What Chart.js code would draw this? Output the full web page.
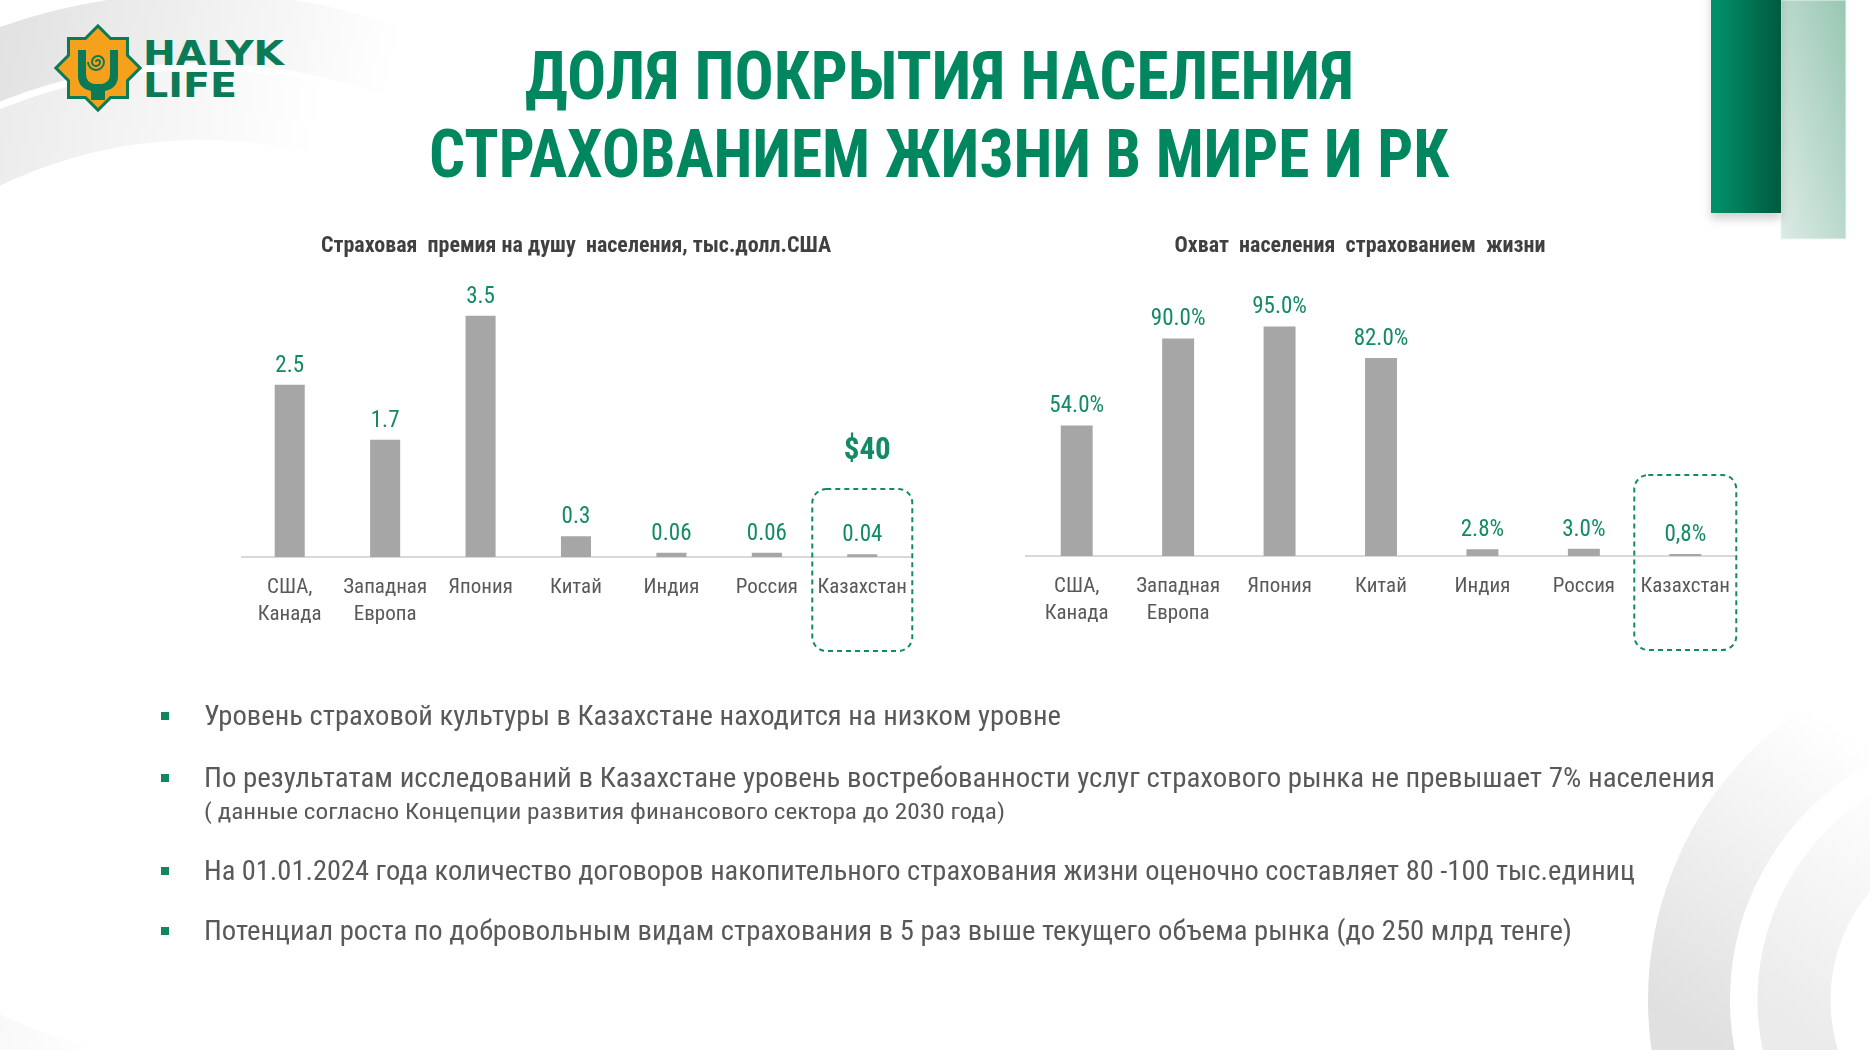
<!DOCTYPE html>
<html lang="ru">
<head>
<meta charset="utf-8">
<title>Доля покрытия населения страхованием жизни</title>
<script src="https://cdn.jsdelivr.net/npm/chart.js@4.4.1/dist/chart.umd.min.js"></script>
<style>
html, body { margin: 0; padding: 0; background: #fff; }
body { width: 1870px; height: 1050px; position: relative; overflow: hidden; }
svg, canvas, .line, .bullet { position: absolute; }
.line { white-space: nowrap; transform-origin: 0 50%; }
.title { color: #00875f; font-weight: bold; font-size: 66px; line-height: 78px; }
.text { color: #595959; font-size: 27px; line-height: 36px; }
.note { color: #595959; font-size: 22px; line-height: 30px; }
.bullet { width: 8px; height: 8px; background: #11875f; }
</style>
</head>
<body>

<svg id="bg" width="1870" height="1050" style="left:0;top:0">
  <defs>
    <linearGradient id="tl1" gradientUnits="userSpaceOnUse" x1="0" y1="40" x2="380" y2="130">
      <stop offset="0" stop-color="#e2e2e2"/><stop offset="1" stop-color="#ffffff"/>
    </linearGradient>
    <linearGradient id="tl2" gradientUnits="userSpaceOnUse" x1="0" y1="140" x2="300" y2="210">
      <stop offset="0" stop-color="#ececec"/><stop offset="1" stop-color="#ffffff"/>
    </linearGradient>
    <linearGradient id="br1" gradientUnits="userSpaceOnUse" x1="1650" y1="1000" x2="1830" y2="720">
      <stop offset="0" stop-color="#e0e0e0"/><stop offset="1" stop-color="#ffffff"/>
    </linearGradient>
    <linearGradient id="br2" gradientUnits="userSpaceOnUse" x1="1760" y1="1000" x2="1900" y2="790">
      <stop offset="0" stop-color="#ebebeb"/><stop offset="1" stop-color="#ffffff"/>
    </linearGradient>
    <linearGradient id="dk" x1="0" y1="0" x2="1" y2="0">
      <stop offset="0" stop-color="#00936b"/><stop offset="1" stop-color="#045a3f"/>
    </linearGradient>
    <linearGradient id="lt" x1="0" y1="1" x2="1" y2="0">
      <stop offset="0" stop-color="#dcebe5"/><stop offset="1" stop-color="#98c7b3"/>
    </linearGradient>
    <filter id="sh" x="-20%" y="-20%" width="140%" height="140%">
      <feDropShadow dx="0" dy="6" stdDeviation="5" flood-color="#000" flood-opacity="0.18"/>
    </filter>
  </defs>
  <circle cx="200" cy="600" r="572" fill="none" stroke="url(#tl1)" stroke-width="70"/>
  <circle cx="200" cy="600" r="495" fill="none" stroke="url(#tl2)" stroke-width="70"/>
  <circle cx="2000" cy="1000" r="311" fill="none" stroke="url(#br1)" stroke-width="82"/>
  <circle cx="2000" cy="1000" r="206" fill="none" stroke="url(#br2)" stroke-width="73"/>
  <rect x="1781" y="0" width="65" height="239" fill="url(#lt)" stroke="#eef5f2" stroke-width="1"/>
  <rect x="1711" y="-10" width="70" height="223" fill="url(#dk)" filter="url(#sh)"/>
</svg>

<svg id="logo" width="300" height="130" style="left:0;top:0">
  <g fill="#0b7a57" stroke="#0b7a57" stroke-width="6">
    <rect x="70" y="40" width="56" height="56"/>
    <polygon points="98,28 138,68 98,108 58,68"/>
  </g>
  <g fill="#f5a11c">
    <rect x="70" y="40" width="56" height="56"/>
    <polygon points="98,28 138,68 98,108 58,68"/>
  </g>
  <path fill="#0b7a57" d="M78,50 h8 v24 q0,8 8,10 h8 q8,-2 8,-10 v-24 h8 v26 q0,12 -13,15 v9 h-14 v-9 q-13,-3 -13,-15 z"/>
  <path fill="none" stroke="#0b7a57" stroke-width="2" d="M96,62 a2,2 0 1,1 4,0 a4,4 0 1,1 -8,0 a6,6 0 1,1 12,0 a8,8 0 1,1 -16,0"/>
  <text x="143" y="65" font-family="DejaVu Sans" font-weight="bold" font-size="34" fill="#0b7a57" textLength="141" lengthAdjust="spacingAndGlyphs">HALYK</text>
  <text x="143" y="97" font-family="DejaVu Sans" font-weight="bold" font-size="34" fill="#0b7a57" textLength="94" lengthAdjust="spacingAndGlyphs">LIFE</text>
</svg>

<div class="line title" data-w="829" style="left:525px; top:38px">ДОЛЯ ПОКРЫТИЯ НАСЕЛЕНИЯ</div>
<div class="line title" data-w="1020" style="left:429px; top:116px">СТРАХОВАНИЕМ ЖИЗНИ В МИРЕ И РК</div>

<canvas id="premiumChart" width="712" height="450" style="left:220px; top:215px"></canvas>
<canvas id="coverageChart" width="792" height="450" style="left:964px; top:215px"></canvas>

<div class="bullet" style="left:161px; top:712px"></div>
<div class="line text" data-w="857" style="left:204px; top:698px">Уровень страховой культуры в Казахстане находится на низком уровне</div>
<div class="bullet" style="left:161px; top:774px"></div>
<div class="line text" data-w="1511" style="left:204px; top:760px">По результатам исследований в Казахстане уровень востребованности услуг страхового рынка не превышает 7% населения</div>
<div class="line note" data-w="801" style="left:204px; top:797px">( данные согласно Концепции развития финансового сектора до 2030 года)</div>
<div class="bullet" style="left:161px; top:867px"></div>
<div class="line text" data-w="1431" style="left:204px; top:853px">На 01.01.2024 года количество договоров накопительного страхования жизни оценочно составляет 80 -100 тыс.единиц</div>
<div class="bullet" style="left:161px; top:927px"></div>
<div class="line text" data-w="1368" style="left:204px; top:913px">Потенциал роста по добровольным видам страхования в 5 раз выше текущего объема рынка (до 250 млрд тенге)</div>

<script>
// chart data
const categories = [['США,', 'Канада'], ['Западная', 'Европа'], 'Япония', 'Китай', 'Индия', 'Россия', 'Казахстан'];
const premiumPerCapita = [2.5, 1.7, 3.5, 0.3, 0.06, 0.06, 0.04];
const premiumLabels = ['2.5', '1.7', '3.5', '0.3', '0.06', '0.06', '0.04'];
const coverageShare = [54.0, 90.0, 95.0, 82.0, 2.8, 3.0, 0.8];
const coverageLabels = ['54.0%', '90.0%', '95.0%', '82.0%', '2.8%', '3.0%', '0,8%'];
const highlightIndex = 6;
const kazakhstanPremium = '$40';
const kazakhstanPremiumLevel = 1.53;

const GREEN = '#128a66';
const BAR_GRAY = '#a6a6a6';

// pick a narrow font if one is installed
function hasFont(name) {
    const ctx = document.createElement('canvas').getContext('2d');
    const sample = 'Страховая премия 0123456789 abcdefghij';
    return ['monospace', 'serif'].some(base => {
        ctx.font = '40px ' + base;
        const w1 = ctx.measureText(sample).width;
        ctx.font = `40px '${name}', ${base}`;
        return ctx.measureText(sample).width !== w1;
    });
}
const FAMILY = ['Liberation Sans Narrow', 'Arial Narrow', 'Roboto Condensed', 'Liberation Sans']
    .find(hasFont) || 'sans-serif';
const FONT = `'${FAMILY}', 'Liberation Sans', Arial, sans-serif`;
document.body.style.fontFamily = FONT;

// stretch text lines to the widths they have on the slide
document.querySelectorAll('.line').forEach(el => {
    const w = el.getBoundingClientRect().width;
    el.style.transform = `scaleX(${el.dataset.w / w})`;
});

Chart.defaults.font.family = FONT;
Chart.defaults.color = '#595959';

// value labels above the bars
const valueLabels = {
    id: 'valueLabels',
    afterDatasetsDraw(chart, args, opts) {
        const ctx = chart.ctx;
        ctx.save();
        ctx.font = `${opts.size}px ${FONT}`;
        ctx.fillStyle = GREEN;
        ctx.textAlign = 'center';
        ctx.textBaseline = 'middle';
        chart.getDatasetMeta(0).data.forEach((bar, i) => {
            ctx.fillText(opts.labels[i], bar.x, bar.y - opts.offset);
        });
        ctx.restore();
    }
};

// dashed frame around Kazakhstan
const highlightBox = {
    id: 'highlightBox',
    afterDraw(chart, args, opts) {
        const ctx = chart.ctx;
        const x = chart.scales.x.getPixelForValue(opts.index);
        const base = chart.scales.y.getPixelForValue(0);
        ctx.save();
        ctx.strokeStyle = GREEN;
        ctx.lineWidth = 2;
        ctx.setLineDash([5, 4]);
        ctx.beginPath();
        ctx.roundRect(x - opts.half, base - opts.above, opts.half * 2, opts.above + opts.below, 14);
        ctx.stroke();
        if (opts.note) {
            ctx.setLineDash([]);
            ctx.font = `bold 31px ${FONT}`;
            ctx.fillStyle = GREEN;
            ctx.textAlign = 'center';
            ctx.textBaseline = 'middle';
            ctx.fillText(opts.note, x + 5, chart.scales.y.getPixelForValue(opts.noteLevel));
        }
        ctx.restore();
    }
};

function xAxis(height) {
    return {
        grid: { display: false, drawTicks: false },
        border: { display: true, color: '#d9d9d9', width: 2 },
        ticks: { color: '#595959', font: { size: 21, lineHeight: 1.3 }, padding: 17, maxRotation: 0, autoSkip: false },
        afterFit: scale => { scale.height = height; }
    };
}

new Chart(document.getElementById('premiumChart'), {
    type: 'bar',
    data: {
        labels: categories,
        datasets: [{ data: premiumPerCapita, backgroundColor: BAR_GRAY, barPercentage: 0.315, categoryPercentage: 1 }]
    },
    options: {
        responsive: false,
        animation: false,
        layout: { padding: { left: 22, right: 22, top: 18, bottom: 0 } },
        plugins: {
            legend: { display: false },
            tooltip: { enabled: false },
            title: {
                display: true,
                text: 'Страховая  премия на душу  населения, тыс.долл.США',
                color: '#404040',
                font: { size: 22, weight: 'bold', lineHeight: 1.2 },
                padding: { top: 0, bottom: 22 }
            },
            valueLabels: { labels: premiumLabels, size: 23, offset: 19 },
            highlightBox: { index: highlightIndex, half: 50, above: 68, below: 94, note: kazakhstanPremium, noteLevel: kazakhstanPremiumLevel }
        },
        scales: {
            x: xAxis(108),
            y: { display: false, min: 0, max: 4 }
        }
    },
    plugins: [valueLabels, highlightBox]
});

new Chart(document.getElementById('coverageChart'), {
    type: 'bar',
    data: {
        labels: categories,
        datasets: [{ data: coverageShare, backgroundColor: BAR_GRAY, barPercentage: 0.315, categoryPercentage: 1 }]
    },
    options: {
        responsive: false,
        animation: false,
        layout: { padding: { left: 20, right: 20, top: 18, bottom: 0 } },
        plugins: {
            legend: { display: false },
            tooltip: { enabled: false },
            title: {
                display: true,
                text: 'Охват  населения  страхованием  жизни',
                color: '#404040',
                font: { size: 22, weight: 'bold', lineHeight: 1.2 },
                padding: { top: 0, bottom: 55 }
            },
            valueLabels: { labels: coverageLabels, size: 23, offset: 19 },
            highlightBox: { index: highlightIndex, half: 51, above: 81, below: 94 }
        },
        scales: {
            x: xAxis(109),
            y: {
                min: 0, max: 100,
                grid: { display: false },
                border: { display: false },
                ticks: { display: false },
                afterFit: scale => { scale.width = 42; }
            }
        }
    },
    plugins: [valueLabels, highlightBox]
});
</script>
</body>
</html>
